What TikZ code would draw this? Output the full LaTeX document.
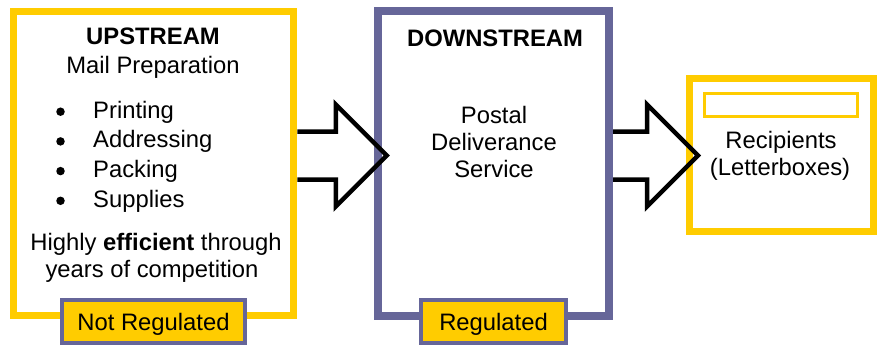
\documentclass[tikz,border=0pt]{standalone}
\usepackage{fontspec}
\setmainfont{Liberation Sans}
\definecolor{gold}{HTML}{FFCC00}
\definecolor{slate}{HTML}{666699}

\begin{document}
\begin{tikzpicture}[x=1pt,y=-1pt,
    txt/.style={inner sep=0pt,anchor=base,font=\fontsize{23.8}{28}\selectfont},
    stage/.style={draw,line width=7.5pt,fill=white,inner sep=0pt},
    dot/.style={circle,fill=black,inner sep=0pt,minimum size=8.5pt},
    tag/.style={draw=slate,fill=gold,line width=4pt,inner sep=0pt,minimum height=43pt,
                text height=17pt,text depth=0pt,font=\fontsize{23.8}{28}\selectfont},
    fat/.style={draw=black,line width=4.5pt}]

  \useasboundingbox (0,0) rectangle (877,345);

  % the three boxes
  \node[stage,draw=gold,minimum width=280pt,minimum height=304pt] (up) at (153.5,163.5) {};
  \node[stage,draw=slate,line width=8pt,minimum width=231pt,minimum height=304pt] (down) at (493.5,163.5) {};
  \node[stage,draw=gold,minimum width=184pt,minimum height=153pt] (rec) at (781.5,155) {};
  \node[draw=gold,line width=3pt,inner sep=0pt,minimum width=153pt,minimum height=23pt] (slot) at (781,105) {};

  % block arrows between the boxes
  \coordinate (mid) at (0,155.5);
  \foreach \a/\s in {up/38.5,down/34}
    \draw[fat] (\a.east |- mid) ++(0,-24) -- ++(\s,0) -- ++(0,-27) -- ++(51,51)
      -- ++(-51,51) -- ++(0,-27) -- ++(-\s,0);

  % upstream
  \node[txt] (uptitle) at (153,45) {\bfseries UPSTREAM};
  \node[txt] (upsub) at (153,73) {Mail Preparation};
  \foreach \t [count=\i] in {Printing,Addressing,Packing,Supplies} {
    \node[dot] (b\i) at (60.5,82+29.7*\i) {};
    \node[txt,anchor=base west] (i\i) at (93,88.3+29.7*\i) {\t};
  }
  \node[txt] (eff1) at (156,250) {Highly \textbf{efficient} through};
  \node[txt] (eff2) at (152,277) {years of competition};

  % downstream
  \node[txt] (downtitle) at (495,46) {\bfseries DOWNSTREAM};
  \foreach \t/\y in {Postal/123,Deliverance/150,Service/177}
    \node[txt] (d\y) at (494,\y) {\t};

  % recipients
  \node[txt] (rec1) at (781,148) {Recipients};
  \node[txt] (rec2) at (780,175) {(Letterboxes)};

  % regulation tags
  \node[tag,minimum width=183pt] (nreg) at (153.5,321.5) {Not Regulated};
  \node[tag,minimum width=145pt] (reg) at (493.5,321.5) {Regulated};
\end{tikzpicture}
\end{document}
